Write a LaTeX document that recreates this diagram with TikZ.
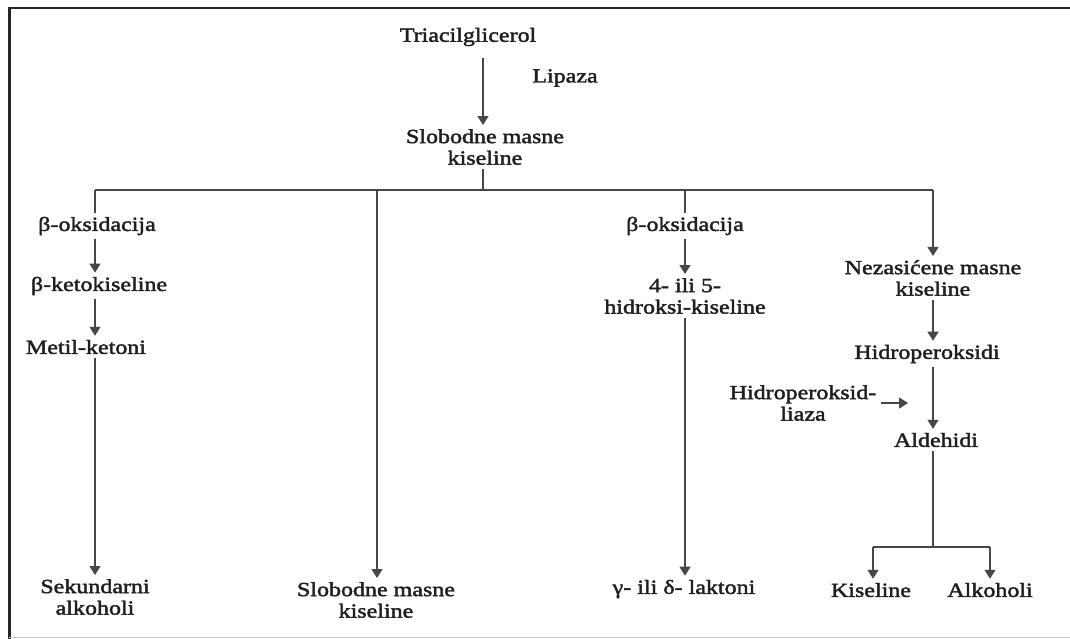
\documentclass[tikz,border=0pt]{standalone}
\usepackage{fontspec}
\setmainfont[FakeStretch=1.2,FakeBold=2]{Liberation Serif}
\usetikzlibrary{arrows.meta}
\begin{document}
\begin{tikzpicture}[x=1pt,y=-1pt,
  lbl/.style={font=\fontsize{20}{21.5}\selectfont, align=center, inner sep=4pt, text=black!88},
  ln/.style={draw=black!72, line width=1.3pt},
  arr/.style={ln, -{Triangle[width=11pt,length=9pt]}}]
\useasboundingbox (0,0) rectangle (1070,639);
\fill[white] (0,0) rectangle (1070,639);
% frame
\draw[black!85, line width=2.2pt] (8,8) -- (1070,8);
\draw[black!85, line width=3pt] (9.5,8) -- (9.5,639);
\draw[black!20, line width=1pt] (9,637.5) -- (1070,637.5);
% nodes
\node[lbl] (tri) at (468,37) {Triacilglicerol};
\node[lbl] (lip) at (565,78) {Lipaza};
\node[lbl] (sfa) at (485,147) {Slobodne masne\\kiseline};
\node[lbl] (ox1) at (97,226) {β-oksidacija};
\node[lbl] (bk) at (99,286) {β-ketokiseline};
\node[lbl] (mk) at (86,347) {Metil-ketoni};
\node[lbl] (sa) at (95,597) {Sekundarni\\alkoholi};
\node[lbl] (sfa2) at (376,600) {Slobodne masne\\kiseline};
\node[lbl] (ox2) at (685,226) {β-oksidacija};
\node[lbl] (hk) at (685,296) {4- ili 5-\\hidroksi-kiseline};
\node[lbl] (lak) at (684,589) {γ- ili δ- laktoni};
\node[lbl] (nez) at (933,278) {Nezasićene masne\\kiseline};
\node[lbl] (hid) at (927,354) {Hidroperoksidi};
\node[lbl] (hl) at (803,403) {Hidroperoksid-\\liaza};
\node[lbl] (ald) at (936,440) {Aldehidi};
\node[lbl] (kis) at (871,590) {Kiseline};
\node[lbl] (alk) at (990,590) {Alkoholi};
% junctions
\coordinate (top) at (483,58);
\coordinate (jt) at (483,190);
\coordinate (b1) at (95,190);
\coordinate (b2) at (377,190);
\coordinate (b3) at (685,190);
\coordinate (b4) at (933,190);
\coordinate (hlend) at (908,403);
\coordinate (jald) at (933,547);
\coordinate (jk) at (873,547);
\coordinate (ja) at (990,547);
% connectors
\draw[arr] (top) -- (top |- sfa.north);
\draw[ln] (sfa.south -| jt) -- (jt);
\draw[ln] (b1) -- (b4);
\draw[ln] (b1) -- (b1 |- ox1.north);
\draw[arr] (ox1.south -| b1) -- (bk.north -| b1);
\draw[arr] (bk.south -| b1) -- (mk.north -| b1);
\draw[arr] (mk.south -| b1) -- (sa.north -| b1);
\draw[arr] (b2) -- (b2 |- sfa2.north);
\draw[ln] (b3) -- (b3 |- ox2.north);
\draw[arr] (ox2.south -| b3) -- (hk.north -| b3);
\draw[arr] (hk.south -| b3) -- (lak.north -| b3);
\draw[arr] (b4) -- (b4 |- nez.north);
\draw[arr] (nez.south -| b4) -- (hid.north -| b4);
\draw[arr] (hid.south -| b4) -- (ald.north -| b4);
\draw[arr] (hl.east) -- (hlend);
\draw[ln] (ald.south -| b4) -- (jald);
\draw[ln] (jk) -- (ja);
\draw[arr] (jk) -- (jk |- kis.north);
\draw[arr] (ja) -- (ja |- alk.north);
\end{tikzpicture}
\end{document}
